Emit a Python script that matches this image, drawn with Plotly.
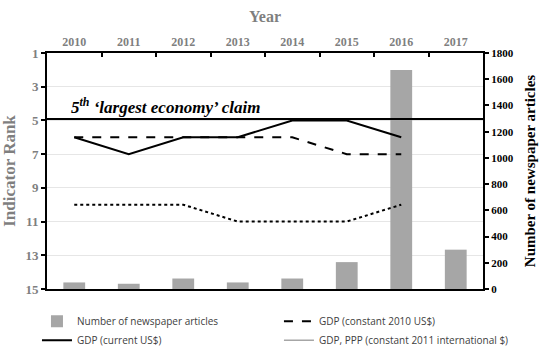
import plotly.graph_objects as go

years = ["2010", "2011", "2012", "2013", "2014", "2015", "2016", "2017"]
articles = [50, 40, 80, 50, 80, 205, 1670, 300]
line_years = ["2010", "2011", "2012", "2013", "2014", "2015", "2016"]
gdp_current = [6, 7, 6, 6, 5, 5, 6]
gdp_const2010 = [6, 6, 6, 6, 6, 7, 7]
gdp_ppp = [10, 10, 10, 11, 11, 11, 10]
claim_rank = 4.92
claim_text = "5<sup>th</sup> ‘largest economy’ claim"
rank_ticks = [1, 3, 5, 7, 9, 11, 13, 15]
article_ticks = list(range(0, 1801, 200))

SERIF = "Liberation Serif"
GRAY_TXT = "#7f7f7f"

fig = go.Figure()
fig.add_trace(go.Bar(x=years, y=articles, name="Number of newspaper articles",
                     marker=dict(color="#a6a6a6", line=dict(width=0)), yaxis="y",
                     legend="legend"))
fig.add_trace(go.Scatter(x=line_years, y=gdp_current, name="GDP (current US$)",
                         mode="lines", line=dict(color="black", width=2), yaxis="y2",
                         legend="legend"))
fig.add_trace(go.Scatter(x=line_years, y=gdp_const2010, name="GDP (constant 2010 US$)",
                         mode="lines", line=dict(color="black", width=2, dash="dash"), yaxis="y2",
                         legend="legend2"))
fig.add_trace(go.Scatter(x=line_years, y=gdp_ppp, name="GDP, PPP (constant 2011 international $)",
                         mode="lines", line=dict(color="black", width=2, dash="dot"), yaxis="y2",
                         showlegend=False))
fig.add_trace(go.Scatter(x=[None], y=[None], name="GDP, PPP (constant 2011 international $)",
                         mode="lines", line=dict(color="#a6a6a6", width=1.5), yaxis="y2",
                         legend="legend2"))

fig.add_shape(type="line", xref="paper", x0=0, x1=1, yref="y2", y0=claim_rank, y1=claim_rank,
              line=dict(color="black", width=2))
fig.add_annotation(text=claim_text, xref="paper", x=0.05, xanchor="left",
                   yref="y2", y=claim_rank, yanchor="bottom", yshift=0, showarrow=False,
                   font=dict(family=SERIF, size=17, color="black", weight="bold", style="italic"))

legend_font = dict(family="Open Sans", size=10, color="#404040")
fig.update_layout(
    width=550, height=350,
    margin=dict(l=47, r=67, t=53, b=61, autoexpand=False),
    paper_bgcolor="white", plot_bgcolor="white",
    bargap=0.6,
    showlegend=True,
    legend=dict(orientation="v", x=-0.023, xanchor="left", y=-0.075, yanchor="top",
                tracegroupgap=0, font=legend_font, bgcolor="rgba(0,0,0,0)"),
    legend2=dict(orientation="v", x=0.532, xanchor="left", y=-0.075, yanchor="top",
                 tracegroupgap=0, font=legend_font, bgcolor="rgba(0,0,0,0)"),
    xaxis=dict(type="category", side="top", categoryorder="array", categoryarray=years,
               showline=True, linecolor="black", linewidth=2, mirror=True,
               ticks="inside", tickson="boundaries", ticklen=4, tickwidth=2, tickcolor="black",
               tickfont=dict(family=SERIF, size=12, color=GRAY_TXT, weight="bold"),
               title=dict(text="Year", font=dict(family=SERIF, size=16, color=GRAY_TXT, weight="bold"),
                          standoff=9),
               showgrid=False),
    yaxis=dict(side="right", range=[0, 1800], tickvals=article_ticks,
               showline=True, linecolor="black", linewidth=2,
               ticks="outside", ticklen=4, tickwidth=2, tickcolor="black",
               tickfont=dict(family=SERIF, size=11, color="black", weight="bold"),
               title=dict(text="Number of newspaper articles",
                          font=dict(family=SERIF, size=15, color="black", weight="bold"), standoff=12),
               showgrid=False, zeroline=False),
    yaxis2=dict(side="left", overlaying="y", range=[15, 1], tickvals=rank_ticks,
                showline=True, linecolor="black", linewidth=2,
                ticks="outside", ticklen=4, tickwidth=2, tickcolor="black",
                tickfont=dict(family=SERIF, size=13, color=GRAY_TXT, weight="bold"),
                title=dict(text="Indicator Rank",
                           font=dict(family=SERIF, size=17, color=GRAY_TXT, weight="bold"), standoff=6),
                showgrid=True, gridcolor="#e6e6e6", gridwidth=1, zeroline=False),
)

fig.write_html("out.html", config={"displayModeBar": False},
               post_script="document.body.style.margin='0px';")
